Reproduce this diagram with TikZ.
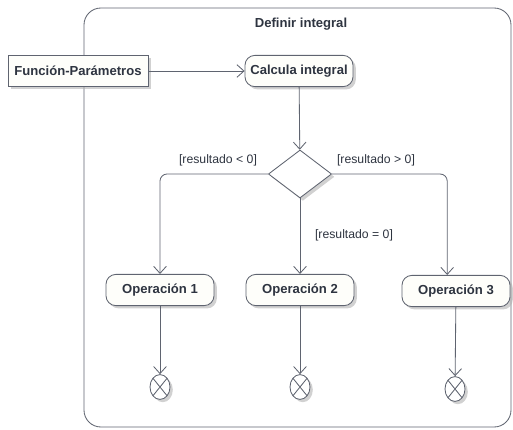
\documentclass[tikz,border=0pt]{standalone}
\usepackage{fontspec}
\setmainfont{Liberation Sans}
\usetikzlibrary{shapes.geometric,shadows,arrows.meta}
\definecolor{linegray}{HTML}{5F6470}
\definecolor{textgray}{HTML}{2E3440}
\definecolor{boxfill}{HTML}{FEFEFA}

\tikzset{
  flow/.style={draw=linegray,line width=0.6pt,-{Straight Barb[length=5pt,width=9pt]}},
  boxshadow/.style={drop shadow={shadow xshift=2pt,shadow yshift=-2pt,fill=black!30,opacity=0.6}},
  action/.style={draw=linegray,line width=0.6pt,fill=boxfill,rounded corners=7pt,
    minimum width=2.7cm,minimum height=0.78cm,boxshadow},
  objbox/.style={draw=linegray,line width=0.6pt,fill=boxfill,
    minimum width=3.5cm,minimum height=0.78cm,boxshadow},
  decision/.style={diamond,draw=linegray,line width=0.6pt,fill=white,inner sep=0pt,
    minimum width=1.58cm,minimum height=1.2cm,boxshadow},
  flowend/.style={ellipse,draw=linegray,line width=0.6pt,fill=white,inner sep=0pt,
    minimum width=0.5cm,minimum height=0.62cm,boxshadow,
    path picture={\draw[linegray,line width=0.6pt]
      (path picture bounding box.north west) -- (path picture bounding box.south east)
      (path picture bounding box.north east) -- (path picture bounding box.south west);}},
  guard/.style={font=\fontsize{8.7}{10}\selectfont\mdseries}
}

\begin{document}
\begin{tikzpicture}[x=0.025cm,y=-0.025cm,font=\fontsize{9.3}{11}\selectfont\bfseries,text=textgray]
\useasboundingbox (0,0) rectangle (513,429);
\draw[linegray,line width=0.6pt,rounded corners=12pt] (84,8) rectangle (511,427);
\node (title) at (301,24) {Definir integral};

\node[objbox] (func) at (78,71) {Función-Parámetros};
\node[action] (calc) at (299,71) {Calcula integral};
\node[decision] (dec) at (300,174) {};

\node[action] (op1) at (160,290) {Operación 1};
\node[action] (op2) at (300,290) {Operación 2};
\node[action] (op3) at (456,291) {Operación 3};

\node[flowend] (end1) at (160,387) {};
\node[flowend] (end2) at (300,387) {};
\node[flowend] (end3) at (455,389) {};

\node[guard] (lt) at (218,160) {[resultado < 0]};
\node[guard] (gt) at (376,160) {[resultado > 0]};
\node[guard] (eq) at (354,235) {[resultado = 0]};

\draw[flow] (func) -- (calc);
\draw[flow] (calc) -- (dec);
\draw[flow,rounded corners=5pt] (dec.west) -| (op1);
\draw[flow] (dec) -- (op2);
\draw[flow,rounded corners=5pt] (dec.east) -| ([xshift=-0.22cm]op3.north);

\draw[flow] (op1) -- (end1);
\draw[flow] (op2) -- (end2);
\draw[flow] (op3) -- (end3);
\end{tikzpicture}
\end{document}
